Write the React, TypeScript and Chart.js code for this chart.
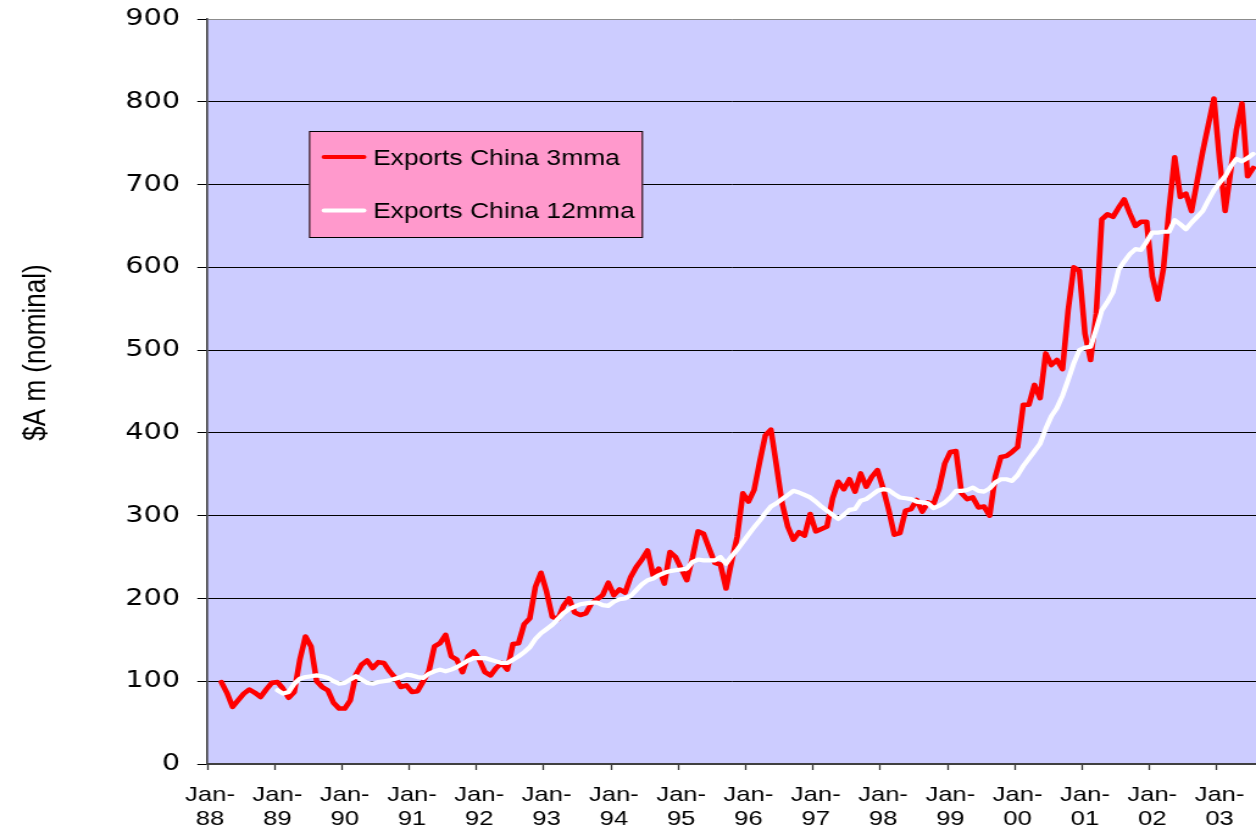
import React, { useEffect, useRef } from 'react';
import { Chart, registerables } from 'chart.js';

Chart.register(...registerables);

// ---------- data ----------
const YEARS = ['88', '89', '90', '91', '92', '93', '94', '95', '96', '97', '98', '99', '00', '01', '02', '03'];
const MONTHS = ['Jan', 'Feb', 'Mar', 'Apr', 'May', 'Jun', 'Jul', 'Aug', 'Sep', 'Oct', 'Nov', 'Dec'];

// Exports China, 3 month moving average ($A m), Jan-88 .. Aug-03
const EXPORTS_3MMA = [
  null, null, 99, 86, 69, 77, 85, 90, 86, 81, 90, 98,
  99, 91, 80, 87, 126, 154, 142, 100, 93, 89, 74, 67,
  67, 77, 108, 120, 125, 116, 123, 122, 112, 104, 93, 95,
  87, 88, 100, 112, 142, 146, 156, 130, 126, 111, 130, 136,
  126, 111, 107, 116, 122, 114, 145, 146, 169, 176, 214, 231,
  208, 178, 175, 191, 200, 183, 180, 182, 194, 199, 204, 219,
  204, 211, 207, 226, 238, 247, 258, 228, 236, 218, 256, 250,
  236, 222, 249, 281, 278, 260, 243, 241, 212, 245, 275, 327,
  317, 331, 365, 397, 404, 360, 315, 287, 271, 280, 276, 302,
  281, 284, 287, 321, 341, 332, 344, 329, 351, 335, 347, 355,
  333, 307, 277, 279, 306, 308, 319, 305, 316, 314, 333, 363,
  377, 378, 327, 320, 322, 310, 311, 300, 347, 371, 372, 377,
  383, 434, 434, 458, 442, 496, 482, 488, 477, 548, 600, 596,
  520, 488, 544, 658, 664, 661, 672, 682, 665, 650, 655, 655,
  589, 561, 599, 670, 733, 685, 689, 668, 704, 740, 772, 804,
  730, 668, 717, 766, 798, 710, 720, 690,
];

// Exports China, 12 month moving average ($A m)
const EXPORTS_12MMA = [
  null, null, null, null, null, null, null, null, null, null, null, null,
  89, 85, 87, 97, 103, 105, 106, 107, 106, 104, 100, 97,
  98, 102, 106, 102, 98, 97, 99, 100, 101, 103, 105, 108,
  107, 105, 104, 109, 112, 114, 112, 114, 117, 121, 125, 128,
  128, 128, 126, 124, 122, 122, 126, 130, 135, 141, 151, 158,
  163, 168, 175, 182, 187, 190, 193, 194, 195, 195, 192, 191,
  196, 199, 200, 203, 210, 217, 222, 224, 228, 231, 233, 234,
  235, 236, 244, 247, 246, 246, 246, 250, 242, 251, 259, 268,
  277, 286, 294, 303, 311, 315, 320, 325, 330, 328, 325, 322,
  317, 311, 306, 301, 296, 301, 307, 308, 318, 320, 325, 330,
  332, 331, 326, 322, 321, 320, 317, 316, 315, 309, 312, 316,
  322, 330, 330, 331, 334, 330, 329, 333, 340, 344, 344, 342,
  349, 360, 369, 378, 387, 405, 420, 430, 445, 464, 484, 500,
  503, 504, 525, 548, 558, 570, 597, 607, 616, 622, 621, 631,
  642, 642, 643, 643, 657, 652, 646, 654, 661, 668, 681, 693,
  702, 710, 722, 731, 728, 732, 737, 740,
];

const SERIES_NAMES = ['Exports China 3mma', 'Exports China 12mma'];
const Y_TITLE = '$A m (nominal)';
const Y_MIN = 0;
const Y_MAX = 900;
const Y_STEP = 100;
const X_LAST_SHOWN = 'Jul-03';

const MONTH_LABELS = YEARS.flatMap((y) => MONTHS.map((m) => `${m}-${y}`)).slice(0, EXPORTS_3MMA.length);

// ---------- geometry ----------
const OUT_W = 1256;
const OUT_H = 834;
const CANVAS_W = 1030;
const SX = OUT_W / CANVAS_W; // horizontal stretch of the original picture
const ux = (px: number) => px / SX;

const FONT = '"Liberation Sans", Arial, sans-serif';

const plotBg = {
  id: 'plotBg',
  beforeDraw(chart: any) {
    const { ctx, chartArea: a } = chart;
    ctx.save();
    ctx.fillStyle = '#CCCCFF';
    ctx.fillRect(a.left, a.top, a.right - a.left, a.bottom - a.top);
    ctx.restore();
  },
};

const boxLegend = {
  id: 'boxLegend',
  afterDatasetsDraw(chart: any) {
    const { ctx } = chart;
    const x0 = ux(309);
    const x1 = ux(643);
    const y0 = 131;
    const y1 = 238;
    ctx.save();
    ctx.fillStyle = '#FF99CC';
    ctx.fillRect(x0, y0, x1 - x0, y1 - y0);
    ctx.strokeStyle = '#000000';
    ctx.lineWidth = 1;
    ctx.strokeRect(x0 + 0.5, y0 + 0.5, x1 - x0 - 1, y1 - y0 - 1);
    const rowsMid = [157, 210.5];
    const rowsBase = [165, 218.3];
    chart.data.datasets.forEach((ds: any, i: number) => {
      ctx.strokeStyle = ds.borderColor;
      ctx.lineWidth = 4;
      ctx.lineCap = 'round';
      ctx.beginPath();
      ctx.moveTo(ux(324), rowsMid[i]);
      ctx.lineTo(ux(364), rowsMid[i]);
      ctx.stroke();
      ctx.fillStyle = '#000000';
      ctx.font = `21.7px ${FONT}`;
      ctx.textAlign = 'left';
      ctx.textBaseline = 'alphabetic';
      ctx.fillText(ds.label, ux(373), rowsBase[i]);
    });
    ctx.restore();
  },
};

const yTitle = {
  id: 'yTitle',
  afterDraw(chart: any) {
    const { ctx } = chart;
    ctx.save();
    ctx.translate(ux(45.5), 352.5);
    ctx.rotate(-Math.PI / 2);
    ctx.fillStyle = '#000000';
    ctx.font = `26px ${FONT}`;
    ctx.textAlign = 'center';
    ctx.textBaseline = 'alphabetic';
    ctx.fillText(Y_TITLE, 0, 0);
    ctx.restore();
  },
};

const noAutoPadding = (s: any) => {
  s.paddingTop = 0;
  s.paddingBottom = 0;
  s.paddingLeft = 0;
  s.paddingRight = 0;
};

export default function App() {
  const ref = useRef<HTMLCanvasElement>(null);

  useEffect(() => {
    if (!ref.current) return;
    Chart.defaults.font.family = FONT;
    const chart = new Chart(ref.current, {
      type: 'line',
      data: {
        labels: MONTH_LABELS,
        datasets: [
          {
            label: SERIES_NAMES[0],
            data: EXPORTS_3MMA,
            borderColor: '#FF0000',
            backgroundColor: '#FF0000',
            borderWidth: 4.6,
            pointRadius: 0,
            tension: 0,
            borderJoinStyle: 'round',
            borderCapStyle: 'round',
            order: 1,
          },
          {
            label: SERIES_NAMES[1],
            data: EXPORTS_12MMA,
            borderColor: '#FFFFFF',
            backgroundColor: '#FFFFFF',
            borderWidth: 4.2,
            pointRadius: 0,
            tension: 0,
            borderJoinStyle: 'round',
            borderCapStyle: 'round',
            order: 0,
          },
        ],
      },
      options: {
        responsive: false,
        maintainAspectRatio: false,
        animation: false,
        events: [],
        layout: { padding: { top: 19, left: 0, right: 0, bottom: 0 }, autoPadding: false },
        plugins: { legend: { display: false }, tooltip: { enabled: false }, title: { display: false } },
        scales: {
          x: {
            type: 'category',
            offset: true,
            max: X_LAST_SHOWN,
            grid: {
              display: true,
              offset: true,
              drawOnChartArea: false,
              drawTicks: true,
              tickLength: 6,
              tickWidth: 1.3,
              color: 'rgba(0,0,0,0)',
              tickColor: (c: any) => (typeof c.index === 'number' && c.index % 12 === 0 ? '#333333' : 'rgba(0,0,0,0)'),
            },
            border: { display: true, color: '#404040', width: 2 },
            ticks: {
              autoSkip: false,
              maxRotation: 0,
              minRotation: 0,
              padding: 13.7,
              color: '#000000',
              font: { family: FONT, size: 21, lineHeight: 1.129 },
              callback: (_v: any, i: number) => {
                const lab = MONTH_LABELS[i];
                return lab && lab.startsWith('Jan') ? ['Jan-', lab.slice(4)] : '';
              },
            },
            afterFit: (s: any) => {
              s.height = 70;
              noAutoPadding(s);
            },
          },
          y: {
            min: Y_MIN,
            max: Y_MAX,
            ticks: {
              stepSize: Y_STEP,
              padding: 14.2,
              color: '#000000',
              font: { family: '"DejaVu Sans", sans-serif', size: 23.5 },
            },
            grid: {
              color: (c: any) => (c.tick && c.tick.value === Y_MAX ? '#8c8c8c' : '#000000'),
              lineWidth: 1,
              drawTicks: true,
              tickLength: 8.2,
              tickColor: '#000000',
            },
            border: { display: true, color: '#404040', width: 1.6 },
            afterFit: (s: any) => {
              s.width = 170;
              noAutoPadding(s);
            },
          },
        },
      },
      plugins: [plotBg, boxLegend, yTitle],
    } as any);
    return () => chart.destroy();
  }, []);

  return (
    <div
      style={{
        position: 'absolute',
        left: 0,
        top: 0,
        width: OUT_W,
        height: OUT_H,
        overflow: 'hidden',
        background: '#ffffff',
      }}
    >
      <div style={{ width: CANVAS_W, height: OUT_H, transform: `scaleX(${SX})`, transformOrigin: '0 0' }}>
        <canvas ref={ref} width={CANVAS_W} height={OUT_H} style={{ display: 'block', width: CANVAS_W, height: OUT_H }} />
      </div>
    </div>
  );
}
